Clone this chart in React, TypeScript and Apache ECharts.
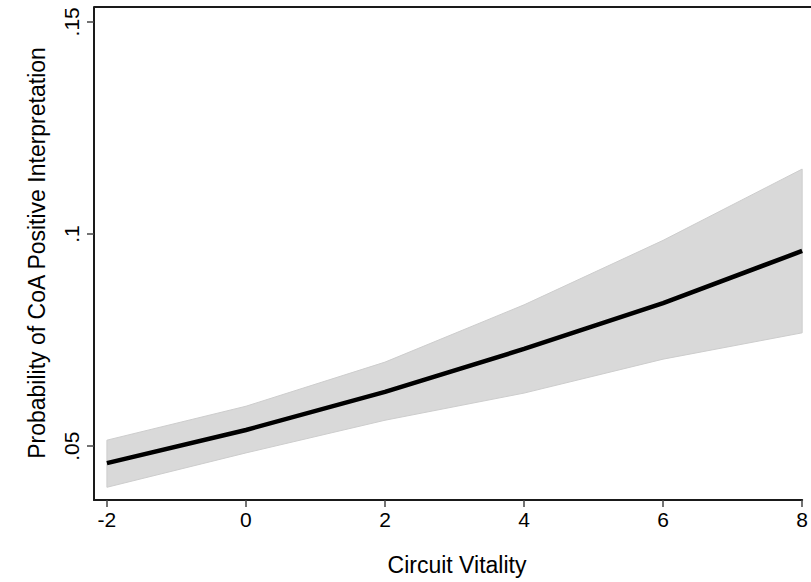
import React, { useEffect, useRef } from "react";
import * as echarts from "echarts";

const xValues = [-2, 0, 2, 4, 6, 8];
const predicted = [0.046, 0.0538, 0.0628, 0.0729, 0.0837, 0.096];
const upperCI = [0.0514, 0.0594, 0.0698, 0.0833, 0.0985, 0.1153];
const lowerCI = [0.0403, 0.0484, 0.0561, 0.0625, 0.0705, 0.0767];
const xTicks = [-2, 0, 2, 4, 6, 8];
const yTicks = [0.05, 0.1, 0.15];
const yTickLabels = [".05", ".1", ".15"];
const xTitle = "Circuit Vitality";
const yTitle = "Probability of CoA Positive Interpretation";

export default function App() {
  const ref = useRef<HTMLDivElement>(null);
  useEffect(() => {
    if (!ref.current) return;
    const chart = echarts.init(ref.current, null, { renderer: "svg" });
    const font = "Liberation Sans, Arial, Helvetica, sans-serif";
    chart.setOption({
      animation: false,
      backgroundColor: "#ffffff",
      grid: { left: 94, right: 4, top: 7, bottom: 82, containLabel: false },
      xAxis: {
        type: "value",
        min: -2 - 13 / 70,
        max: 8,
        splitLine: { show: false },
        axisLine: { show: true, onZero: false, lineStyle: { color: "#1a1a1a", width: 2 } },
        axisTick: { show: true, length: 7, customValues: xTicks, lineStyle: { color: "#444", width: 1.5 } },
        axisLabel: {
          customValues: xTicks,
          fontSize: 21,
          color: "#000",
          fontFamily: font,
          margin: 9,
          formatter: (v: number) => String(v),
        },
      },
      yAxis: {
        type: "value",
        min: 0.0373,
        max: 0.1535,
        splitLine: { show: false },
        axisLine: { show: true, onZero: false, lineStyle: { color: "#1a1a1a", width: 2 } },
        axisTick: { show: true, length: 7, customValues: yTicks, lineStyle: { color: "#444", width: 1.5 } },
        axisLabel: {
          customValues: yTicks,
          rotate: 90,
          fontSize: 21,
          color: "#000",
          fontFamily: font,
          margin: 12,
          formatter: (v: number) => {
            const i = yTicks.findIndex((t) => Math.abs(t - v) < 1e-9);
            return i >= 0 ? yTickLabels[i] : "";
          },
        },
      },
      graphic: [
        {
          type: "line",
          shape: { x1: 94, y1: 7, x2: 811, y2: 7 },
          style: { stroke: "#1a1a1a", lineWidth: 2 },
          z: 100,
        },
        {
          type: "text",
          x: 457,
          y: 565,
          style: {
            text: xTitle,
            fontSize: 23,
            fontFamily: font,
            fill: "#000",
            align: "center",
            verticalAlign: "middle",
          },
        },
        {
          type: "text",
          x: 37,
          y: 253,
          rotation: Math.PI / 2,
          style: {
            text: yTitle,
            fontSize: 23,
            fontFamily: font,
            fill: "#000",
            align: "center",
            verticalAlign: "middle",
          },
        },
      ],
      series: [
        {
          type: "custom",
          data: [0],
          silent: true,
          z: 1,
          renderItem: (_params: any, api: any) => {
            const pts: number[][] = [];
            xValues.forEach((x, i) => pts.push(api.coord([x, upperCI[i]])));
            for (let i = xValues.length - 1; i >= 0; i--) pts.push(api.coord([xValues[i], lowerCI[i]]));
            return {
              type: "polygon",
              shape: { points: pts },
              style: { fill: "#d9d9d9", stroke: "#cdcdcd", lineWidth: 1 },
            };
          },
        },
        {
          type: "line",
          data: xValues.map((x, i) => [x, predicted[i]]),
          symbol: "none",
          lineStyle: { color: "#000", width: 4.5 },
          z: 3,
        },
      ],
    });
    return () => chart.dispose();
  }, []);
  return (
    <div
      ref={ref}
      style={{ position: "fixed", left: 0, top: 0, width: 811, height: 582, background: "#fff" }}
    />
  );
}
